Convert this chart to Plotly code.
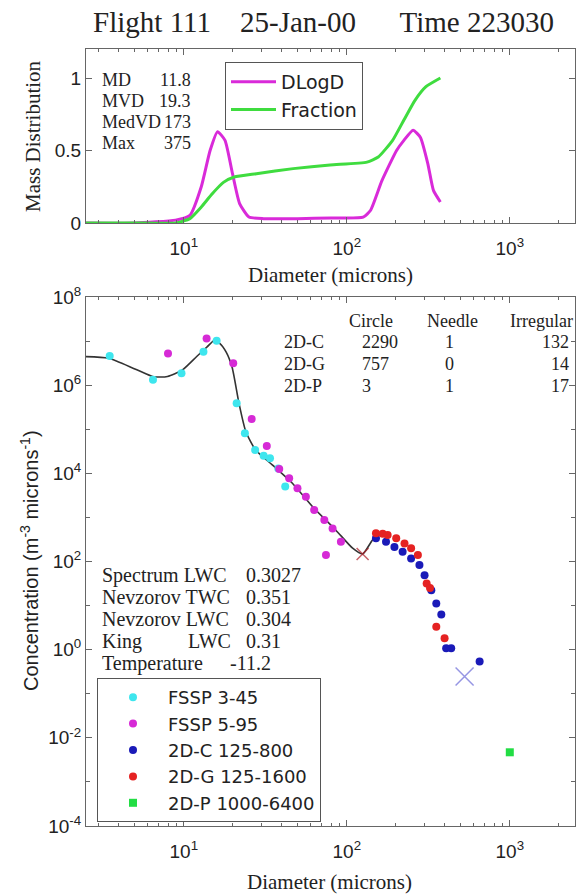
import plotly.graph_objects as go

# ---------------- data ----------------
# Top panel: mass distribution curves
dlogd_diam = [2.5, 5, 8.9, 10.9, 12.8, 14.5, 16.1, 17.9, 19.9, 22.0, 25.1, 30.9, 50, 80,
              126, 140, 164, 202, 224, 255, 283, 314, 340, 375]
dlogd_vals = [0, 0, 0.02, 0.053, 0.25, 0.50, 0.63, 0.57, 0.34, 0.134, 0.041, 0.03, 0.03, 0.035,
              0.04, 0.088, 0.29, 0.50, 0.57, 0.64, 0.59, 0.41, 0.225, 0.145]
frac_diam = [2.5, 5, 8.9, 10.9, 12.8, 14.9, 17.5, 20.4, 27.9, 46.9, 79, 133, 156, 191, 224,
             262, 306, 375]
frac_vals = [0, 0, 0.0, 0.03, 0.11, 0.20, 0.28, 0.317, 0.34, 0.375, 0.40, 0.42, 0.455, 0.57,
             0.71, 0.846, 0.94, 1.0]

stat_labels = ["MD", "MVD", "MedVD", "Max"]
stat_values = ["11.8", "19.3", "173", "375"]

# Bottom panel: concentration spectra
fssp345_d = [3.51, 6.47, 9.68, 13.2, 15.9, 21.1, 23.7, 27.4, 30.9, 33.8, 38.0, 41.9]
fssp345_c = [4.57e6, 1.32e6, 1.86e6, 5.75e6, 1.02e7, 3.89e5, 8.13e4, 3.39e4, 2.51e4, 2.19e4,
             1.29e4, 5.0e3]
fssp595_d = [8.0, 13.8, 20.1, 26.1, 32.3, 38.5, 44.3, 49.8, 56.1, 63.1, 72.8, 81.8, 92.0, 74.5]
fssp595_c = [5.25e6, 1.15e7, 3.16e6, 1.70e5, 4.17e4, 1.26e4, 7.76e3, 4.57e3, 2.95e3, 1.48e3,
             871, 562, 282, 141]
c2d_d = [151, 174, 196, 220, 248, 279, 300, 330, 354, 380, 407, 437, 653]
c2d_c = [339, 282, 214, 166, 117, 83, 49, 22.4, 11.2, 6.3, 1.07, 1.07, 0.54]
g2d_d = [151, 166, 178, 201, 226, 248, 273, 309, 324, 354, 398]
g2d_c = [437, 427, 398, 339, 257, 200, 141, 31.6, 25.1, 3.3, 1.82]
p2d_d = [1000]
p2d_c = [4.7e-3]
fit_d = [2.51, 3.45, 5.01, 6.53, 7.94, 9.77, 12.0, 13.9, 15.3, 16.6, 18.2, 19.8, 21.8, 24.0,
         27.6, 34.9, 46.5, 61.7, 85.7, 108.6, 125, 144, 158]
fit_c = [4.43e6, 4.07e6, 2.34e6, 1.55e6, 1.58e6, 2.19e6, 4.47e6, 7.41e6, 1.02e7, 8.91e6,
         5.62e6, 2.51e6, 3.89e5, 8.91e4, 3.39e4, 1.55e4, 5.89e3, 1.74e3, 513, 200, 148, 309, 398]
xmark_d = [125, 528]
xmark_c = [148, 0.245]

table_cols = ["Circle", "Needle", "Irregular"]
table_rows = ["2D-C", "2D-G", "2D-P"]
table_vals = [[2290, 1, 132], [757, 0, 14], [3, 1, 17]]

lwc_labels = ["Spectrum LWC", "Nevzorov TWC", "Nevzorov LWC", "King", "Temperature"]
lwc_values = ["0.3027", "0.351", "0.304", "0.31", "-11.2"]

legend_names = ["FSSP 3-45", "FSSP 5-95", "2D-C 125-800", "2D-G 125-1600", "2D-P 1000-6400"]

# ---------------- geometry helpers ----------------
W, H = 576, 895
ML, MR, MT, MB = 86, 1, 49, 69
PW, PH = W - ML - MR, H - MT - MB


def px(x):
    return (x - ML) / PW


def py(y):
    return 1 - (y - MT) / PH


SERIF = "Liberation Serif"
SANS = "Liberation Sans"
INK = "#222222"
FRAME = "#666666"

fig = go.Figure()

# top panel
fig.add_trace(go.Scatter(x=dlogd_diam, y=dlogd_vals, mode="lines", name="DLogD",
                         line=dict(color="#d92ad9", width=3, shape="spline", smoothing=0.5),
                         xaxis="x", yaxis="y", legend="legend"))
fig.add_trace(go.Scatter(x=frac_diam, y=frac_vals, mode="lines", name="Fraction",
                         line=dict(color="#3fdc3f", width=3, shape="spline", smoothing=0.5),
                         xaxis="x", yaxis="y", legend="legend"))

# bottom panel
fig.add_trace(go.Scatter(x=fit_d, y=fit_c, mode="lines", showlegend=False,
                         line=dict(color="#333333", width=1.6, shape="spline", smoothing=0.6),
                         xaxis="x2", yaxis="y2"))
series = [
    (fssp345_d, fssp345_c, "#3ee6ee", "circle"),
    (fssp595_d, fssp595_c, "#d62ad6", "circle"),
    (c2d_d, c2d_c, "#1a1ab8", "circle"),
    (g2d_d, g2d_c, "#e52222", "circle"),
    (p2d_d, p2d_c, "#22dd44", "square"),
]
for (xd, yd, col, sym), nm in zip(series, legend_names):
    fig.add_trace(go.Scatter(x=xd, y=yd, mode="markers", name=nm,
                             marker=dict(color=col, size=8, symbol=sym, line=dict(width=0)),
                             xaxis="x2", yaxis="y2", legend="legend2"))
fig.add_trace(go.Scatter(x=xmark_d, y=xmark_c, mode="markers", showlegend=False,
                         marker=dict(symbol="x-thin", size=[12, 18],
                                     line=dict(color=["#b0202a", "#6a6ad8"], width=1.5)),
                         xaxis="x2", yaxis="y2"))

axis_common = dict(showline=True, linecolor=FRAME, linewidth=1, mirror="ticks",
                   ticks="inside", ticklen=6, tickwidth=1, tickcolor=FRAME,
                   showgrid=False, zeroline=False,
                   tickfont=dict(family=SANS, size=19, color=INK))

minor_x = [3, 4, 5, 6, 7, 8, 9, 20, 30, 40, 50, 60, 70, 80, 90,
           200, 300, 400, 500, 600, 700, 800, 900, 2000]
xticks = dict(type="log", range=[0.4, 3.4], tickmode="array", tickvals=[10, 100, 1000],
              ticktext=["10<sup>1</sup>", "10<sup>2</sup>", "10<sup>3</sup>"],
              minor=dict(ticks="inside", ticklen=3, tickcolor=FRAME, tickvals=minor_x),
              ticklabelstandoff=8, domain=[0, 1])

fig.update_layout(
    width=W, height=H, margin=dict(l=ML, r=MR, t=MT, b=MB, autoexpand=False),
    paper_bgcolor="white", plot_bgcolor="white",
    font=dict(family=SANS, color=INK),
    title=dict(text="Flight 111\u00a0\u00a0\u00a0\u00a025-Jan-00\u00a0\u00a0\u00a0\u00a0\u00a0\u00a0Time 223030",
               font=dict(family=SERIF, size=29, color=INK),
               xref="container", x=323.5 / W, xanchor="center",
               yref="container", y=1 - 22 / H, yanchor="middle"),
    xaxis=dict(**axis_common, **xticks, anchor="y"),
    yaxis=dict(**axis_common, range=[0, 1.2], tickmode="array", tickvals=[0, 0.5, 1],
               ticktext=["0", "0.5", "1"], domain=[py(223), 1], anchor="x"),
    xaxis2=dict(**axis_common, **xticks, anchor="y2"),
    yaxis2=dict(**axis_common, type="log", range=[-4, 8], tickmode="array",
                tickvals=[1e-4, 1e-2, 1, 1e2, 1e4, 1e6, 1e8],
                ticktext=["10<sup>-4</sup>", "10<sup>-2</sup>", "10<sup>0</sup>", "10<sup>2</sup>",
                          "10<sup>4</sup>", "10<sup>6</sup>", "10<sup>8</sup>"],
                minor=dict(ticks="inside", ticklen=4, tickcolor=FRAME,
                           tickvals=[1e-3, 1e-1, 1e1, 1e3, 1e5, 1e7]),
                domain=[0, py(297)], anchor="x2"),
    legend=dict(x=px(225), y=py(62), xanchor="left", yanchor="top",
                bordercolor="#555555", borderwidth=1, bgcolor="white",
                font=dict(family="DejaVu Sans", size=19, color=INK), itemwidth=45),
    legend2=dict(x=px(97), y=py(678), xanchor="left", yanchor="top",
                 bordercolor="#555555", borderwidth=1, bgcolor="white",
                 font=dict(family="DejaVu Sans", size=18, color=INK), itemwidth=60),
)

ann = []


def add_text(text, x, y, size, family=SERIF, anchor="left", angle=0):
    ann.append(dict(text=text, x=px(x), y=py(y), xref="paper", yref="paper",
                    xanchor=anchor, yanchor="middle", showarrow=False, textangle=angle,
                    font=dict(family=family, size=size, color=INK)))


# axis titles
add_text("Mass Distribution", 33, 136, 21, anchor="center", angle=-90)
add_text("Diameter (microns)", 330, 275, 21, anchor="center")
add_text("Diameter (microns)", 329, 882, 21, anchor="center")
add_text("Concentration (m<sup>-3</sup> microns<sup>-1</sup>)", 29, 561, 20, family=SANS,
         anchor="center", angle=-90)

# stats in top panel
for i, (lab, val) in enumerate(zip(stat_labels, stat_values)):
    yy = 80 + 21 * i
    add_text(lab, 100, yy, 18)
    add_text(val, 193, yy, 18, anchor="right")

# table in bottom panel
add_text(table_cols[0], 371, 321, 18, anchor="center")
add_text(table_cols[1], 452, 321, 18, anchor="center")
add_text(table_cols[2], 575, 321, 18, anchor="right")
for i, (rlab, vals) in enumerate(zip(table_rows, table_vals)):
    yy = 342 + 22 * i
    add_text(rlab, 282, yy, 18)
    add_text(str(vals[0]), 360, yy, 18)
    add_text(str(vals[1]), 449, yy, 18, anchor="center")
    add_text(str(vals[2]), 571, yy, 18, anchor="right")

# water content block
for i, (lab, val) in enumerate(zip(lwc_labels, lwc_values)):
    yy = 575 + 22 * i
    add_text(lab, 100, yy, 20)
    if lab == "King":
        add_text("LWC", 233, yy, 20, anchor="right")
    add_text(val, 228 if lab == "Temperature" else 244, yy, 20)

fig.update_layout(annotations=ann)
fig.write_html("out.html")
